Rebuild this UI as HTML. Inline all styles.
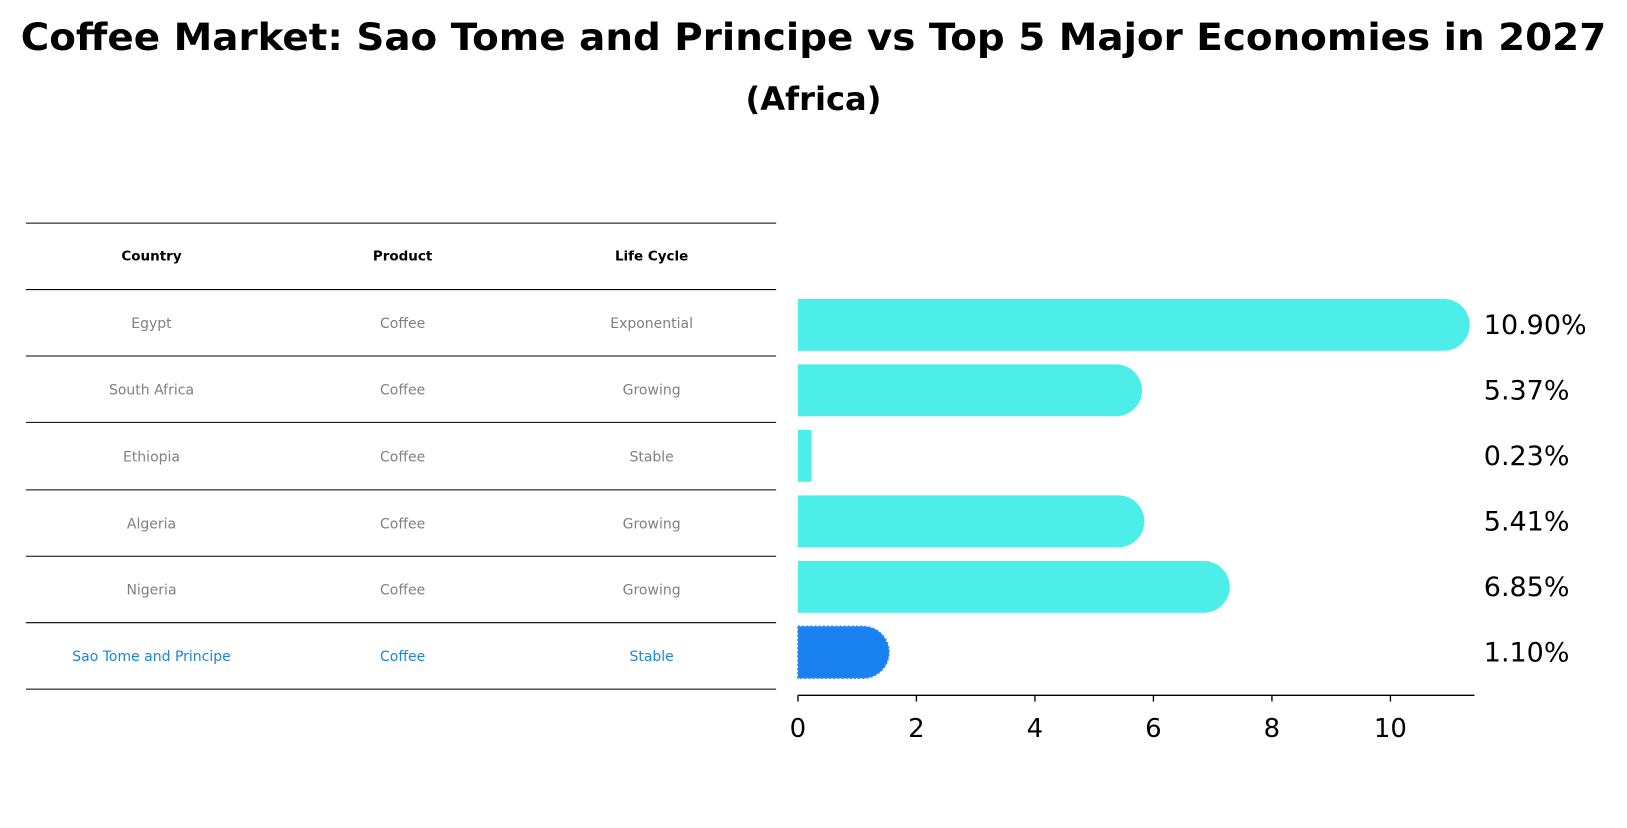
<!DOCTYPE html>
<html><head><meta charset="utf-8"><style>
body{margin:0;background:#fff;font-family:"Liberation Sans","DejaVu Sans",sans-serif;}
svg text{font-family:"DejaVu Sans","Liberation Sans",sans-serif;}
</style></head><body>
<svg id="chart" width="1627" height="823" viewBox="0 0 1568 793" preserveAspectRatio="none" xmlns="http://www.w3.org/2000/svg">
<text x="784" y="48" text-anchor="middle" font-size="36" font-weight="bold" textLength="1528" lengthAdjust="spacingAndGlyphs">Coffee Market: Sao Tome and Principe vs Top 5 Major Economies in 2027</text>
<text x="784" y="106" text-anchor="middle" font-size="31" font-weight="bold">(Africa)</text>
<g id="table"></g>
<g id="bars"></g>
</svg>
<script>
const countries=["Egypt","South Africa","Ethiopia","Algeria","Nigeria","Sao Tome and Principe"];
const products=["Coffee","Coffee","Coffee","Coffee","Coffee","Coffee"];
const lifeCycles=["Exponential","Growing","Stable","Growing","Growing","Stable"];
const values=[10.90,5.37,0.23,5.41,6.85,1.10];
const ticks=[0,2,4,6,8,10];
const NS="http://www.w3.org/2000/svg";
function mk(t,a,p){const e=document.createElementNS(NS,t);for(const k in a)e.setAttribute(k,a[k]);p.appendChild(e);return e;}
const tbl=document.getElementById('table');
const lineYs=[215,279,343,407,472,536,600,664];
lineYs.forEach(y=>{const l=mk('line',{x1:25,x2:748,y1:y,y2:y,stroke:'#000','stroke-width':1},tbl);

});
const colX=[146,388,628];
["Country","Product","Life Cycle"].forEach((h,i)=>{const t=mk('text',{x:colX[i],y:251,'text-anchor':'middle','font-size':13,'font-weight':'bold'},tbl);t.textContent=h;

});
countries.forEach((c,r)=>{const y=(lineYs[r+1]+lineYs[r+2])/2+5;const hl=r===countries.length-1;
[c,products[r],lifeCycles[r]].forEach((v,i)=>{const t=mk('text',{x:colX[i],y:y,'text-anchor':'middle','font-size':13.5,fill:hl?'#1a86d9':'#808080'},tbl);t.textContent=v;

});});
const bars=document.getElementById('bars');
const x0=769,pxPer=57.1;const xs=v=>x0+v*pxPer;
const yTop=288,step=63.1,bh=50,r=25;
values.forEach((v,i)=>{const y=yTop+i*step;const xe=xs(v);const hl=i===values.length-1;
const col=hl?'#1a82f0':'#4deeea';
let d;
if(v<1){d=`M${x0},${y}H${xe}V${y+bh}H${x0}Z`;}
else{d=`M${x0},${y}H${xe}A${r},${r} 0 0 1 ${xe},${y+bh}H${x0}Z`;}
const p=mk('path',{d:d,fill:col},bars);
if(hl){p.setAttribute('stroke','#3b8fe0');p.setAttribute('stroke-dasharray','2,2');p.setAttribute('stroke-width','1.5');}


const t=mk('text',{x:1430,y:y+bh/2+9,'font-size':26},bars);t.textContent=v.toFixed(2)+'%';

});
const ax=mk('line',{x1:x0,x2:1421,y1:670,y2:670,stroke:'#000','stroke-width':1.3},bars);


ticks.forEach(tv=>{const x=xs(tv);const tk=mk('line',{x1:x,x2:x,y1:670,y2:676,stroke:'#000','stroke-width':1.3},bars);


const t=mk('text',{x:x,y:710,'text-anchor':'middle','font-size':25},bars);t.textContent=tv;

});
</script>
</body></html>
